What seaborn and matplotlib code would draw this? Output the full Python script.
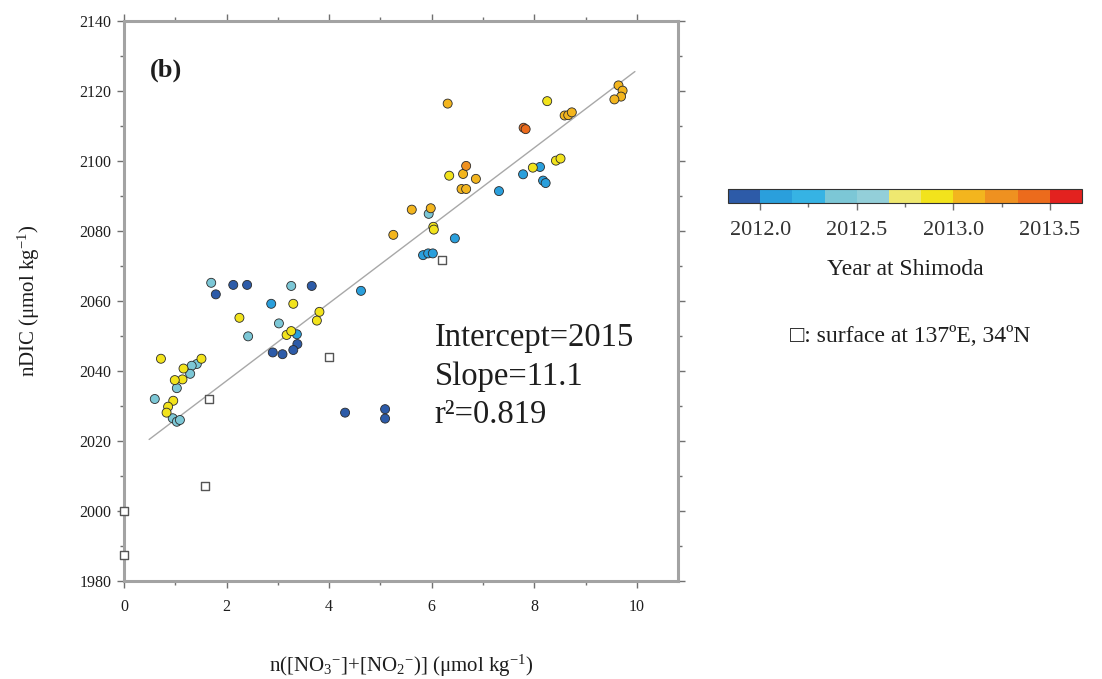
import numpy as np
import pandas as pd
import matplotlib
matplotlib.use("Agg")
import matplotlib.pyplot as plt
from matplotlib.colors import ListedColormap, Normalize
from matplotlib.cm import ScalarMappable
from matplotlib.ticker import MultipleLocator, FixedLocator
import seaborn as sns

# ---- data -------------------------------------------------------------
# nitrate + nitrite (umol/kg), nDIC (umol/kg), sampling year at Shimoda
nitrate = [
    # 2011.9 (dark blue)
    1.79, 2.13, 2.40, 3.66, 3.38, 3.30, 2.90, 3.09, 4.31, 5.09, 5.09,
    # early 2012 (blue)
    2.87, 3.37, 4.62, 6.45, 5.83, 5.93, 6.02, 7.31, 7.78, 8.11, 8.17, 8.22,
    # mid 2012 (light cyan)
    1.70, 3.26, 3.02, 2.42, 1.42, 1.32, 1.29, 1.03, 0.60, 0.95, 1.03, 1.09, 5.94,
    # late 2012 (yellow)
    3.30, 2.25, 3.17, 3.26, 3.81, 3.76, 0.72, 1.51, 1.16, 1.14, 0.99, 0.96,
    0.86, 0.83, 6.03, 6.04, 6.34, 7.97, 8.42, 8.51, 8.25,
    # early 2013 (amber)
    6.31, 6.61, 6.86, 6.58, 6.67, 5.61, 5.98, 5.25, 8.59, 8.66, 8.73,
    9.64, 9.72, 9.69, 9.56,
    # spring 2013 (orange)
    6.67, 7.79, 7.83,
]
ndic = [
    2061.9, 2064.6, 2064.6, 2064.3, 2047.7, 2046.0, 2045.3, 2044.8, 2028.1, 2029.1, 2026.4,
    2059.2, 2050.5, 2062.9, 2077.9, 2073.1, 2073.6, 2073.6, 2091.4, 2096.2, 2098.3, 2094.4, 2093.7,
    2065.2, 2064.3, 2053.6, 2049.9, 2042.0, 2041.5, 2039.2, 2035.1, 2032.0, 2026.5, 2025.5, 2026.0, 2084.9,
    2059.2, 2055.2, 2050.3, 2051.4, 2056.9, 2054.4, 2043.5, 2043.5, 2040.7, 2037.6, 2037.4, 2031.5,
    2029.8, 2028.1, 2081.2, 2080.4, 2095.8, 2098.1, 2100.1, 2100.7, 2117.1,
    2116.4, 2096.3, 2094.9, 2092.0, 2092.0, 2086.1, 2086.5, 2078.9, 2113.0, 2113.1, 2113.9,
    2121.6, 2120.1, 2118.4, 2117.6,
    2098.6, 2109.5, 2109.1,
]
year = (
    [2011.92] * 11
    + [2012.08] * 12
    + [2012.42] * 13
    + [2012.92] * 21
    + [2013.08] * 15
    + [2013.25, 2013.42, 2013.42]
)

# surface samples at 137E, 34N
surf_nitrate = [0.0, 0.0, 1.58, 1.65, 4.00, 6.19]
surf_ndic = [1999.9, 1987.4, 2007.2, 2031.9, 2044.1, 2071.7]

# linear fit
intercept = 2015
slope = 11.1
r2 = 0.819
fit_range = [0.49, 9.96]

# two-month colour classes from late 2011 to mid 2013
class_colors = ["#2d5ba8", "#2a9fdc", "#36b3e4", "#7cc7d6", "#93cfd9", "#efe870",
                "#f2e31c", "#f3b51e", "#ef9120", "#ec6b1c", "#e3221f"]
year_min, year_max = 2011 + 10 / 12, 2013 + 8 / 12
cbar_ticks = [2012.0, 2012.5, 2013.0, 2013.5]

# ---- style ------------------------------------------------------------
sns.set_style("ticks")
plt.rcParams["font.family"] = ["Liberation Serif", "DejaVu Serif"]
plt.rcParams["mathtext.fontset"] = "custom"
plt.rcParams["mathtext.rm"] = "Liberation Serif"
plt.rcParams["mathtext.it"] = "Liberation Serif:italic"
plt.rcParams["mathtext.bf"] = "Liberation Serif:bold"

spine_col = "#a3a3a3"
tick_col = "#707070"
text_col = "#1e1e1e"

cmap = ListedColormap(class_colors)
norm = Normalize(year_min, year_max)

fig = plt.figure(figsize=(11.02, 6.79), dpi=100)
W, H = 1102, 679
ax = fig.add_axes([124 / W, 1 - 581 / H, (678 - 124) / W, (581 - 21) / H])

df = pd.DataFrame({"nitrate": nitrate, "ndic": ndic, "year": year})
surf = pd.DataFrame({"nitrate": surf_nitrate, "ndic": surf_ndic})

# regression line
fx = np.array(fit_range)
ax.plot(fx, intercept + slope * fx, color="#a8a8a8", lw=1.0, zorder=1)

# surface samples (open squares)
sns.scatterplot(data=surf, x="nitrate", y="ndic", ax=ax, marker="s", s=38,
                facecolor="white", edgecolor="#555555", linewidth=1.0,
                zorder=3, clip_on=False)

# coastal samples coloured by year
sns.scatterplot(data=df, x="nitrate", y="ndic", hue="year", palette=cmap,
                hue_norm=norm, ax=ax, s=42, edgecolor="#2a2a2a", linewidth=0.6,
                legend=False, zorder=4)

ax.set_xlim(0, 10.8)
ax.set_ylim(1980, 2140)
ax.xaxis.set_major_locator(FixedLocator([0, 2, 4, 6, 8, 10]))
ax.xaxis.set_minor_locator(MultipleLocator(1))
ax.yaxis.set_major_locator(MultipleLocator(20))
ax.yaxis.set_minor_locator(MultipleLocator(10))

for sp in ax.spines.values():
    sp.set_visible(True)
    sp.set_color(spine_col)
    sp.set_linewidth(2.2)

ax.tick_params(which="both", direction="out", top=True, right=True,
               color=tick_col, width=1.0)
ax.tick_params(which="major", length=5, pad=4, labelsize=11.5, labelcolor=text_col)
ax.tick_params(which="minor", length=3)
ax.tick_params(axis="x", pad=8)

ax.set_xlabel("n([NO$_3$$^{-}$]+[NO$_2$$^{-}$)] (\u03bcmol kg$^{-1}$)",
              fontsize=15, color=text_col, labelpad=27)
ax.set_ylabel("nDIC (\u03bcmol kg$^{-1}$)", fontsize=15, color=text_col, labelpad=27)

ax.text(0.047, 0.9125, "(b)", transform=ax.transAxes, fontsize=19,
        fontweight="bold", color=text_col, va="center", ha="left")

stats = [f"Intercept={intercept}", f"Slope={slope}", f"r\u00b2={r2}"]
for i, s in enumerate(stats):
    ax.text(0.561, 0.434 - i * 0.069, s, transform=ax.transAxes, fontsize=23.5,
            color=text_col, va="center", ha="left")

# colour bar for sampling year
cax = fig.add_axes([728 / W, 1 - 203 / H, 354 / W, 14 / H])
cb = fig.colorbar(ScalarMappable(norm=norm, cmap=cmap), cax=cax,
                  orientation="horizontal")
cb.set_ticks(cbar_ticks)
cb.set_ticklabels([f"{t:.1f}" for t in cbar_ticks])
cax.xaxis.set_minor_locator(FixedLocator([2012.25, 2012.75, 2013.25]))
cax.tick_params(which="both", direction="out", color=tick_col, width=1.0)
cax.tick_params(which="major", length=5, pad=8, labelsize=16, labelcolor="#333333")
cax.tick_params(which="minor", length=3)
cb.outline.set_edgecolor("#333333")
cb.outline.set_linewidth(0.8)

fig.text(905 / W, 1 - 270 / H, "Year at Shimoda", fontsize=17, color=text_col,
         ha="center", va="center")
fig.text(790 / W, 1 - 337 / H, "\u25a1: surface at 137\u00baE, 34\u00baN",
         fontsize=17, color=text_col, ha="left", va="center")

fig.savefig("out.png", dpi=100, facecolor="white")
